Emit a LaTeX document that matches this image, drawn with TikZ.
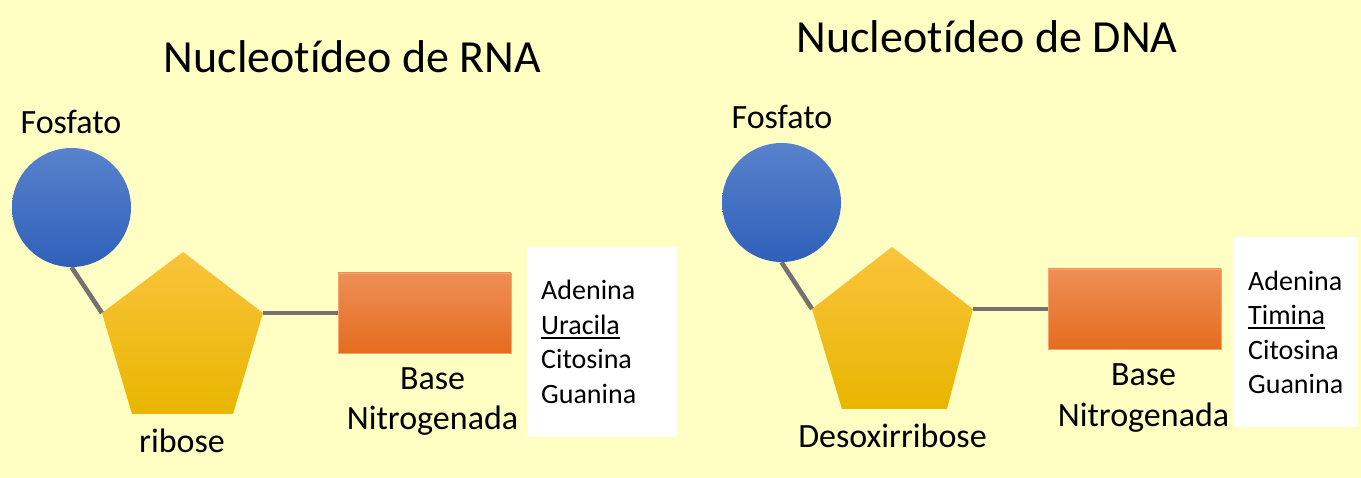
\documentclass[tikz,border=0pt]{standalone}
\usepackage{fontspec}
\setmainfont{Carlito}[Ligatures=NoCommon]
\usetikzlibrary{shapes.geometric}
\definecolor{bgyellow}{RGB}{255,255,196}
\definecolor{blueTop}{RGB}{88,130,204}
\definecolor{blueBot}{RGB}{47,96,186}
\definecolor{goldTop}{RGB}{250,195,60}
\definecolor{goldMid}{RGB}{255,199,0}
\definecolor{goldBot}{RGB}{232,182,0}
\definecolor{orTop}{RGB}{239,143,86}
\definecolor{orBot}{RGB}{228,108,30}
\definecolor{orEdge}{RGB}{245,165,112}
\definecolor{bondgray}{RGB}{118,113,113}
\newcommand\myul[1]{\setbox0\hbox{#1}\rlap{\rule[-3.6pt]{\wd0}{1.8pt}}\box0}
\pgfdeclarelayer{behind}
\pgfsetlayers{behind,main}
\begin{document}
\begin{tikzpicture}[x=1pt,y=-1pt,
  phos/.style={circle, minimum size=119pt, inner sep=0pt, top color=blueTop, bottom color=blueBot, draw=none},
  sugar/.style={top color=goldTop, middle color=goldMid, bottom color=goldBot, draw=none},
  basebox/.style={rectangle, minimum width=173pt, minimum height=80pt, inner sep=0pt, top color=orTop, bottom color=orBot, draw=orEdge, line width=0.8pt},
  listbox/.style={rectangle, fill=white, draw=none, inner sep=0pt},
  bond/.style={draw=bondgray, line width=4.6pt},
  lbl/.style={font=\fontsize{34}{41}\selectfont, inner sep=0pt, anchor=base},
  ttl/.style={font=\fontsize{46}{55}\selectfont, inner sep=0pt, anchor=base},
  item/.style={font=\fontsize{28}{34}\selectfont, inner sep=0pt, anchor=base west}]
\begin{pgfonlayer}{behind}
\fill[bgyellow] (0,0) rectangle (1361,478);
\end{pgfonlayer}
\useasboundingbox (0,0) rectangle (1361,478);

% ---------- RNA ----------
\node[ttl] (T1) at (352.5,73) {Nucleotídeo de RNA};
\node[lbl] (F1) at (71,134) {Fosfato};
\node[phos] (P1) at (71.5,207.5) {};
\coordinate (S1t) at (183,252);
\coordinate (S1r) at (263,313);
\coordinate (S1br) at (233,414);
\coordinate (S1bl) at (132,414);
\coordinate (S1l) at (102,313);
\shade[sugar] (S1t) -- (S1r) -- (S1br) -- (S1bl) -- (S1l) -- cycle;
\node[basebox] (B1) at (424.5,313) {};
\node[listbox, minimum width=150pt, minimum height=190pt] (W1) at (602,342) {};
\node[item] (A1) at (541,300) {Adenina};
\node[item] (U1) at (541,335) {\myul{Uracila}};
\node[item] (C1) at (541,369) {Citosina};
\node[item] (G1) at (541,404) {Guanina};
\node[lbl] (R1) at (182,453) {ribose};
\node[lbl] (BA1) at (432.5,390) {Base};
\node[lbl] (N1) at (432.5,430) {Nitrogenada};
\begin{pgfonlayer}{behind}
\draw[bond] (P1.south) -- (S1l);
\draw[bond] (S1r) -- (B1.west);
\end{pgfonlayer}

% ---------- DNA ----------
\node[ttl] (T2) at (987,53) {Nucleotídeo de DNA};
\node[lbl] (F2) at (782,129) {Fosfato};
\node[phos] (P2) at (781.5,202.5) {};
\coordinate (S2t) at (892,247);
\coordinate (S2r) at (973,309);
\coordinate (S2br) at (947,409);
\coordinate (S2bl) at (842,409);
\coordinate (S2l) at (812,309);
\shade[sugar] (S2t) -- (S2r) -- (S2br) -- (S2bl) -- (S2l) -- cycle;
\node[basebox] (B2) at (1134.5,309) {};
\node[listbox, minimum width=125pt, minimum height=190pt] (W2) at (1295.5,332) {};
\node[item] (A2) at (1248,291) {Adenina};
\node[item] (U2) at (1248,325) {\myul{Timina}};
\node[item] (C2) at (1248,360) {Citosina};
\node[item] (G2) at (1248,394) {Guanina};
\node[lbl] (R2) at (892.5,447) {Desoxirribose};
\node[lbl] (BA2) at (1143.5,386) {Base};
\node[lbl] (N2) at (1143.5,426) {Nitrogenada};
\begin{pgfonlayer}{behind}
\draw[bond] (P2.south) -- (S2l);
\draw[bond] (S2r) -- (B2.west);
\end{pgfonlayer}
\end{tikzpicture}
\end{document}
